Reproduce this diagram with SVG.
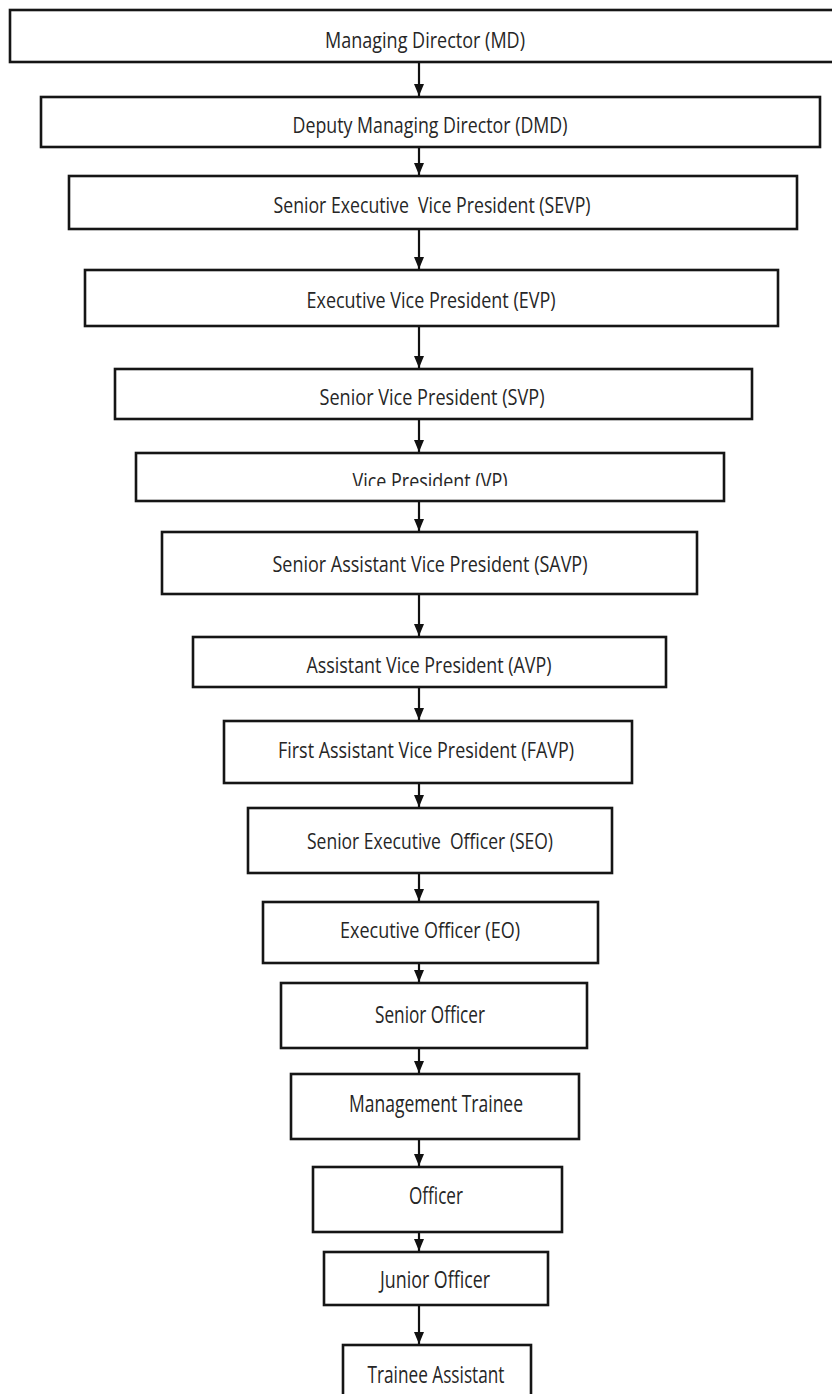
<svg xmlns="http://www.w3.org/2000/svg" width="832" height="1394" viewBox="0 0 832 1394">
  <style>
    .box { fill: #ffffff; stroke: #151515; stroke-width: 2.6; }
    .lbl { font-family: "Open Sans", "Liberation Sans", sans-serif; fill: #262626; text-anchor: middle; }
    .s1 { font-size: 21px; }
    .s2 { font-size: 22px; }
    .s3 { font-size: 24px; }
    .link { stroke: #111111; stroke-width: 2.2; fill: none; marker-end: url(#head); }
  </style>
  <defs>
    <marker id="head" viewBox="0 0 10 12" markerUnits="userSpaceOnUse" markerWidth="10" markerHeight="12" refX="5" refY="12" orient="0">
      <path d="M0,0 L10,0 L5,12 Z" fill="#111111"/>
    </marker>
    <clipPath id="vpClip">
      <rect x="136" y="440" width="590" height="46"/>
    </clipPath>
  </defs>
  <rect width="832" height="1394" fill="#ffffff"/>

  <g id="connectors">
    <line class="link" x1="419" y1="63" x2="419" y2="96"/>
    <line class="link" x1="419" y1="148" x2="419" y2="175"/>
    <line class="link" x1="419" y1="230" x2="419" y2="269"/>
    <line class="link" x1="419" y1="327" x2="419" y2="368"/>
    <line class="link" x1="419" y1="420" x2="419" y2="452"/>
    <line class="link" x1="419" y1="502" x2="419" y2="531"/>
    <line class="link" x1="419" y1="595" x2="419" y2="636"/>
    <line class="link" x1="419" y1="688" x2="419" y2="720"/>
    <line class="link" x1="419" y1="784" x2="419" y2="807"/>
    <line class="link" x1="419" y1="874" x2="419" y2="901"/>
    <line class="link" x1="419" y1="964" x2="419" y2="982"/>
    <line class="link" x1="419" y1="1049" x2="419" y2="1073"/>
    <line class="link" x1="419" y1="1140" x2="419" y2="1166"/>
    <line class="link" x1="419" y1="1233" x2="419" y2="1251"/>
    <line class="link" x1="419" y1="1306" x2="419" y2="1344"/>
  </g>

  <g id="md">
    <rect class="box" x="10" y="10" width="840" height="52"/>
    <text class="lbl s1" x="425" y="48" textLength="200" lengthAdjust="spacingAndGlyphs">Managing Director (MD)</text>
  </g>
  <g id="dmd">
    <rect class="box" x="41" y="97" width="779" height="50"/>
    <text class="lbl s1" x="430" y="133" textLength="275" lengthAdjust="spacingAndGlyphs">Deputy Managing Director (DMD)</text>
  </g>
  <g id="sevp">
    <rect class="box" x="69" y="176" width="728" height="53"/>
    <text class="lbl s1" x="432" y="213" textLength="317" lengthAdjust="spacingAndGlyphs" xml:space="preserve">Senior Executive  Vice President (SEVP)</text>
  </g>
  <g id="evp">
    <rect class="box" x="85" y="270" width="693" height="56"/>
    <text class="lbl s1" x="431" y="308" textLength="249" lengthAdjust="spacingAndGlyphs">Executive Vice President (EVP)</text>
  </g>
  <g id="svp">
    <rect class="box" x="115" y="369" width="637" height="50"/>
    <text class="lbl s1" x="432" y="405" textLength="225" lengthAdjust="spacingAndGlyphs">Senior Vice President (SVP)</text>
  </g>
  <g id="vp">
    <rect class="box" x="136" y="453" width="588" height="48"/>
    <text class="lbl s1" x="430" y="489" textLength="155" lengthAdjust="spacingAndGlyphs" clip-path="url(#vpClip)">Vice President (VP)</text>
  </g>
  <g id="savp">
    <rect class="box" x="162" y="532" width="535" height="62"/>
    <text class="lbl s1" x="430" y="572" textLength="315" lengthAdjust="spacingAndGlyphs">Senior Assistant Vice President (SAVP)</text>
  </g>
  <g id="avp">
    <rect class="box" x="193" y="637" width="473" height="50"/>
    <text class="lbl s1" x="429" y="673" textLength="245" lengthAdjust="spacingAndGlyphs">Assistant Vice President (AVP)</text>
  </g>
  <g id="favp">
    <rect class="box" x="224" y="721" width="408" height="62"/>
    <text class="lbl s2" x="426" y="758" textLength="296" lengthAdjust="spacingAndGlyphs">First Assistant Vice President (FAVP)</text>
  </g>
  <g id="seo">
    <rect class="box" x="248" y="808" width="364" height="65"/>
    <text class="lbl s2" x="430" y="849" textLength="246" lengthAdjust="spacingAndGlyphs" xml:space="preserve">Senior Executive  Officer (SEO)</text>
  </g>
  <g id="eo">
    <rect class="box" x="263" y="902" width="335" height="61"/>
    <text class="lbl s2" x="430" y="938" textLength="180" lengthAdjust="spacingAndGlyphs">Executive Officer (EO)</text>
  </g>
  <g id="senior-officer">
    <rect class="box" x="281" y="983" width="306" height="65"/>
    <text class="lbl s3" x="430" y="1023" textLength="110" lengthAdjust="spacingAndGlyphs">Senior Officer</text>
  </g>
  <g id="management-trainee">
    <rect class="box" x="291" y="1074" width="288" height="65"/>
    <text class="lbl s3" x="436" y="1112" textLength="174" lengthAdjust="spacingAndGlyphs">Management Trainee</text>
  </g>
  <g id="officer">
    <rect class="box" x="313" y="1167" width="249" height="65"/>
    <text class="lbl s3" x="436" y="1204" textLength="54" lengthAdjust="spacingAndGlyphs">Officer</text>
  </g>
  <g id="junior-officer">
    <rect class="box" x="324" y="1252" width="224" height="53"/>
    <text class="lbl s3" x="435" y="1288" textLength="110" lengthAdjust="spacingAndGlyphs">Junior Officer</text>
  </g>
  <g id="trainee-assistant">
    <rect class="box" x="343" y="1345" width="188" height="60"/>
    <text class="lbl s3" x="436" y="1383" textLength="137" lengthAdjust="spacingAndGlyphs">Trainee Assistant</text>
  </g>
</svg>
